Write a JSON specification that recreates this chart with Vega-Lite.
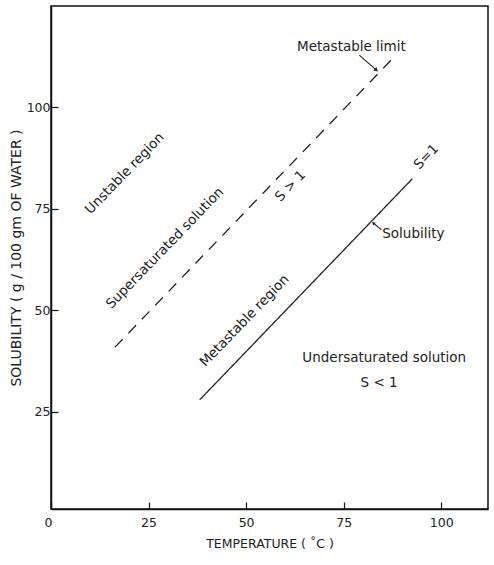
{
  "$schema": "https://vega.github.io/schema/vega-lite/v6.json",
  "width": 437,
  "height": 503,
  "autosize": {"type": "none"},
  "padding": {"left": 51, "top": 6, "right": 6, "bottom": 56},
  "background": "white",
  "config": {
    "view": {"stroke": "#111", "strokeWidth": 1.5},
    "font": "DejaVu Sans",
    "axis": {"grid": false, "domainColor": "#111", "domainWidth": 1.5, "tickColor": "#111", "tickWidth": 1.2, "labelColor": "#222", "titleColor": "#222", "labelFont": "DejaVu Sans", "titleFont": "DejaVu Sans", "titleFontWeight": "normal", "labelFontSize": 12.5, "titleFontSize": 12.5}
  },
  "datasets": {
    "lines": [
      {"series": "Metastable limit", "t": 16.4, "s": 40.9},
      {"series": "Metastable limit", "t": 87.2, "s": 111.7},
      {"series": "Solubility", "t": 38.1, "s": 27.9},
      {"series": "Solubility", "t": 92.6, "s": 82.4}
    ],
    "flat": [
      {"label": "Metastable limit", "t": 77.0, "s": 114.9},
      {"label": "Undersaturated solution", "t": 85.4, "s": 38.2},
      {"label": "S < 1", "t": 84.1, "s": 32.1}
    ],
    "left": [
      {"label": "Solubility", "t": 84.9, "s": 68.8}
    ],
    "tilted": [
      {"label": "Unstable region", "t": 18.9, "s": 83.7},
      {"label": "Supersaturated solution", "t": 29.2, "s": 65.3},
      {"label": "S > 1", "t": 61.4, "s": 80.6},
      {"label": "S=1", "t": 96.2, "s": 87.8},
      {"label": "Metastable region", "t": 49.6, "s": 47.4}
    ],
    "arrows": [
      {"name": "limit", "t": 79.0, "s": 112.9, "t2": 83.4, "s2": 109.2},
      {"name": "sol", "t": 84.7, "s": 69.8, "t2": 82.6, "s2": 71.5}
    ],
    "head1": [{"t": 83.4, "s": 109.2}],
    "head2": [{"t": 82.6, "s": 71.5}]
  },
  "layer": [
    {
      "data": {"name": "lines"},
      "mark": {"type": "line", "color": "#222", "strokeWidth": 1.3},
      "encoding": {
        "x": {"field": "t", "type": "quantitative", "scale": {"domain": [0, 112], "nice": false, "zero": false},
              "axis": {"values": [0, 25, 50, 75, 100], "title": "TEMPERATURE ( ˚C )", "tickSize": -7, "labelPadding": 14, "titlePadding": 9,
                       "labelAlign": {"expr": "datum.value == 0 ? 'right' : 'center'"}, "labelOffset": {"expr": "datum.value == 0 ? 1 : 0"}}},
        "y": {"field": "s", "type": "quantitative", "scale": {"domain": [1, 125], "nice": false, "zero": false},
              "axis": {"values": [25, 50, 75, 100], "title": "SOLUBILITY ( g / 100 gm OF WATER )", "titleFontSize": 14, "tickSize": -7, "labelPadding": 8, "titlePadding": 3}},
        "detail": {"field": "series"},
        "strokeDash": {"field": "series", "type": "nominal", "scale": {"domain": ["Metastable limit", "Solubility"], "range": [[11, 8.35], [1, 0]]}, "legend": null}
      }
    },
    {
      "data": {"name": "flat"},
      "mark": {"type": "text", "fontSize": 13.5, "color": "#222", "align": "center", "baseline": "middle"},
      "encoding": {"x": {"field": "t", "type": "quantitative"}, "y": {"field": "s", "type": "quantitative"}, "text": {"field": "label"}}
    },
    {
      "data": {"name": "left"},
      "mark": {"type": "text", "fontSize": 13.5, "color": "#222", "align": "left", "baseline": "middle"},
      "encoding": {"x": {"field": "t", "type": "quantitative"}, "y": {"field": "s", "type": "quantitative"}, "text": {"field": "label"}}
    },
    {
      "data": {"name": "tilted"},
      "mark": {"type": "text", "fontSize": 13.5, "color": "#222", "align": "center", "baseline": "middle", "angle": 314},
      "encoding": {"x": {"field": "t", "type": "quantitative"}, "y": {"field": "s", "type": "quantitative"}, "text": {"field": "label"}}
    },
    {
      "data": {"name": "arrows"},
      "mark": {"type": "rule", "color": "#222", "strokeWidth": 1.1},
      "encoding": {"x": {"field": "t", "type": "quantitative"}, "y": {"field": "s", "type": "quantitative"}, "x2": {"field": "t2"}, "y2": {"field": "s2"}}
    },
    {
      "data": {"name": "head1"},
      "mark": {"type": "point", "shape": "triangle-up", "filled": true, "color": "#222", "size": 22, "angle": 131, "opacity": 1},
      "encoding": {"x": {"field": "t", "type": "quantitative"}, "y": {"field": "s", "type": "quantitative"}}
    },
    {
      "data": {"name": "head2"},
      "mark": {"type": "point", "shape": "triangle-up", "filled": true, "color": "#222", "size": 14, "angle": 311, "opacity": 1},
      "encoding": {"x": {"field": "t", "type": "quantitative"}, "y": {"field": "s", "type": "quantitative"}}
    }
  ]
}
